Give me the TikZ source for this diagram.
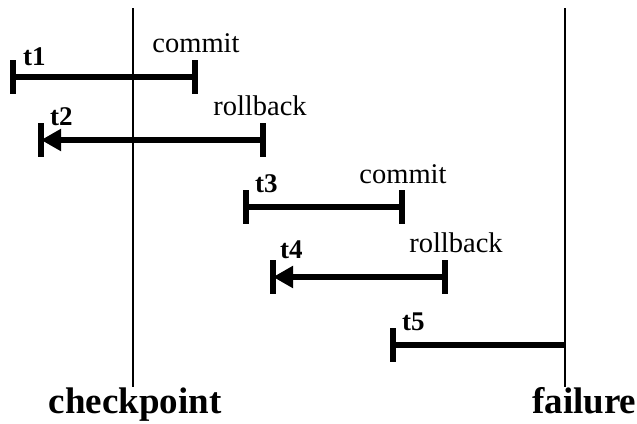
\documentclass[tikz,border=0pt]{standalone}
\usepackage{fontspec}
\setmainfont{Liberation Serif}
\usetikzlibrary{arrows.meta}
\tikzset{
  timeline/.style={line width=2.6pt},
  txn/.style={line width=6pt},
  undo/.style={-{Triangle[length=20pt,width=21pt]}},
  txnlabel/.style={font=\fontsize{27}{27}\selectfont\bfseries, anchor=base west, inner sep=0pt},
  endlabel/.style={font=\fontsize{28.5}{28.5}\selectfont, anchor=base, inner sep=0pt},
  eventlabel/.style={font=\fontsize{37}{37}\selectfont\bfseries, inner sep=0pt},
}
\newcommand{\txntick}[1]{\draw[txn] ([yshift=17pt]#1) -- ([yshift=-17pt]#1);}

\begin{document}
\begin{tikzpicture}[x=1pt, y=-1pt]
  \useasboundingbox (0,0) rectangle (637,423);
  % checkpoint and failure
  \coordinate (cptop) at (133,8);
  \coordinate (fltop) at (565,8);
  \node[eventlabel, anchor=base] (cp) at (135,413) {checkpoint};
  \node[eventlabel, anchor=base west] (fl) at (532,413) {failure};
  \draw[timeline] (cptop) -- (cptop |- cp.north);
  \draw[timeline] (fltop) -- (fltop |- fl.north);
  % transaction end points
  \coordinate (t1s) at (12.5,77);  \coordinate (t1e) at (195,77);
  \coordinate (t2s) at (41,140);   \coordinate (t2e) at (263,140);
  \coordinate (t3s) at (246,207);  \coordinate (t3e) at (402,207);
  \coordinate (t4s) at (273,277);  \coordinate (t4e) at (445,277);
  \coordinate (t5s) at (393,345);
  % t1 commits
  \draw[txn] (t1s) -- (t1e);
  \txntick{t1s} \txntick{t1e}
  \node[txnlabel] (t1) at (23,65) {t1};
  \node[endlabel] (c1) at (196,52) {commit};
  % t2 rolls back
  \draw[txn, undo] (t2e) -- (t2s);
  \txntick{t2s} \txntick{t2e}
  \node[txnlabel] (t2) at (50,125) {t2};
  \node[endlabel] (r2) at (260,115) {rollback};
  % t3 commits
  \draw[txn] (t3s) -- (t3e);
  \txntick{t3s} \txntick{t3e}
  \node[txnlabel] (t3) at (255,192) {t3};
  \node[endlabel] (c3) at (403,183) {commit};
  % t4 rolls back
  \draw[txn, undo] (t4e) -- (t4s);
  \txntick{t4s} \txntick{t4e}
  \node[txnlabel] (t4) at (280,258) {t4};
  \node[endlabel] (r4) at (456,252) {rollback};
  % t5 still running at failure
  \draw[txn] (t5s) -- (t5s -| fltop);
  \txntick{t5s}
  \node[txnlabel] (t5) at (402,330) {t5};
\end{tikzpicture}
\end{document}
